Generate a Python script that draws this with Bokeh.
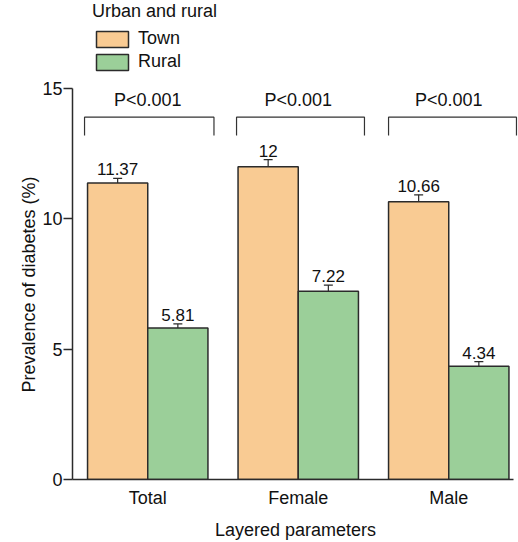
from bokeh.plotting import figure
from bokeh.models import (ColumnDataSource, Range1d, FixedTicker, Whisker, TeeHead,
                          LabelSet, Legend, LegendItem, Title)
from bokeh.core.properties import value
from bokeh.embed import file_html
from bokeh.resources import INLINE

# ---- data ----
categories = ["Total", "Female", "Male"]
town = [11.37, 12.0, 10.66]
rural = [5.81, 7.22, 4.34]
town_err = [0.18, 0.27, 0.26]
rural_err = [0.16, 0.24, 0.18]
p_labels = ["P<0.001", "P<0.001", "P<0.001"]
y_ticks = [0, 5, 10, 15]

FONT = "Liberation Sans"
TOWN_C = "#F9CB93"
RURAL_C = "#9BCF99"
EDGE = "#2b2b2b"
TXT = "#111111"

idx = list(range(len(categories)))
off = 0.2
bw = 0.4

town_src = ColumnDataSource(dict(
    x=[i - off for i in idx], top=town,
    lower=[v - e for v, e in zip(town, town_err)],
    upper=[v + e for v, e in zip(town, town_err)],
    lab=[f"{v:g}" for v in town]))
rural_src = ColumnDataSource(dict(
    x=[i + off for i in idx], top=rural,
    lower=[v - e for v, e in zip(rural, rural_err)],
    upper=[v + e for v, e in zip(rural, rural_err)],
    lab=[f"{v:g}" for v in rural]))

W, H = 518, 542
FL, FB, FT = 72, 479, 88          # frame left / bottom, axis top (px)
y_max_axis = 15
y_end = y_max_axis * FB / (FB - FT)     # extend range so legend area is inside frame
x_start = -0.5
x_end = x_start + (W - FL) / 150.5

p = figure(width=W, height=H, output_backend="svg", toolbar_location=None,
           x_range=Range1d(x_start, x_end), y_range=Range1d(0, y_end),
           min_border_left=FL, min_border_right=0, min_border_top=0,
           min_border_bottom=H - FB)
p.outline_line_color = None
p.grid.visible = False
p.background_fill_color = "white"

r_town = p.vbar(x="x", top="top", width=bw, source=town_src, fill_color=TOWN_C,
                line_color=EDGE, line_width=1.5)
r_rural = p.vbar(x="x", top="top", width=bw, source=rural_src, fill_color=RURAL_C,
                 line_color=EDGE, line_width=1.5)

for src in (town_src, rural_src):
    w = Whisker(base="x", lower="lower", upper="upper", source=src,
                line_color=EDGE, line_width=1.2,
                upper_head=TeeHead(size=9, line_color=EDGE, line_width=1.2),
                lower_head=TeeHead(size=9, line_color=EDGE, line_width=1.2))
    p.add_layout(w)
    lbl = LabelSet(x="x", y="upper", text="lab", source=src, text_align="center",
                   text_baseline="bottom", y_offset=3, text_font=value(FONT),
                   text_font_size="17px", text_color=TXT)
    p.add_layout(lbl)

# significance brackets
br_top, br_bot, p_y = 13.9, 13.2, 14.55
left_ext = [-0.42, -0.41, -0.40]
right_ext = [0.44, 0.44, 0.45]
bx, by = [], []
for i, le, re in zip(idx, left_ext, right_ext):
    bx.append([i + le, i + le, i + re, i + re])
    by.append([br_bot, br_top, br_top, br_bot])
p.multi_line(bx, by, line_color="#333333", line_width=1.2)
p.text(x=[i + 0.0 for i in idx], y=[p_y] * 3, text=p_labels, text_align="center",
       text_baseline="middle", text_font=value(FONT), text_font_size="18px",
       text_color=TXT)

# axes
xa = p.xaxis[0]
xa.ticker = FixedTicker(ticks=idx)
xa.major_label_overrides = {i: c for i, c in zip(idx, categories)}
xa.major_tick_line_color = None
xa.minor_tick_line_color = None
xa.major_tick_out = 0
xa.major_tick_in = 0
xa.major_label_standoff = 8
xa.axis_label = "Layered parameters"
xa.axis_label_standoff = 9
xa.axis_line_color = EDGE
xa.axis_line_width = 1.5
xa.bounds = (x_start, 2.43)

ya = p.yaxis[0]
ya.ticker = FixedTicker(ticks=y_ticks)
ya.bounds = (0, y_max_axis)
ya.minor_tick_line_color = None
ya.major_tick_out = 9
ya.major_tick_in = 0
ya.major_tick_line_color = EDGE
ya.major_tick_line_width = 1.5
ya.major_label_standoff = 1
ya.axis_line_color = EDGE
ya.axis_line_width = 1.5

for ax in (xa, ya):
    ax.major_label_text_font = FONT
    ax.major_label_text_font_size = "18px"
    ax.major_label_text_color = TXT
    ax.axis_label_text_font = FONT
    ax.axis_label_text_font_size = "18px"
    ax.axis_label_text_font_style = "normal"
    ax.axis_label_text_color = TXT

# y-axis title, centred on the 0-15 axis span (not on the extended frame)
ytitle = Title(text="Prevalence of diabetes (%)", align="left", offset=87,
               standoff=2, text_font=FONT, text_font_size="18px",
               text_font_style="normal", text_color=TXT)
p.add_layout(ytitle, "left")

legend = Legend(items=[LegendItem(label="Town", renderers=[r_town]),
                       LegendItem(label="Rural", renderers=[r_rural])],
                title="Urban and rural", location=(20, FB - 72),
                glyph_width=40, glyph_height=20, spacing=2, padding=0, margin=0,
                label_standoff=6, title_standoff=6,
                border_line_color=None, background_fill_alpha=0)
legend.title_text_font = FONT
legend.title_text_font_size = "18px"
legend.title_text_font_style = "normal"
legend.title_text_color = TXT
legend.label_text_font = FONT
legend.label_text_font_size = "18px"
legend.label_text_color = TXT
p.add_layout(legend, "center")

open("out.html", "w").write(file_html(p, INLINE))
